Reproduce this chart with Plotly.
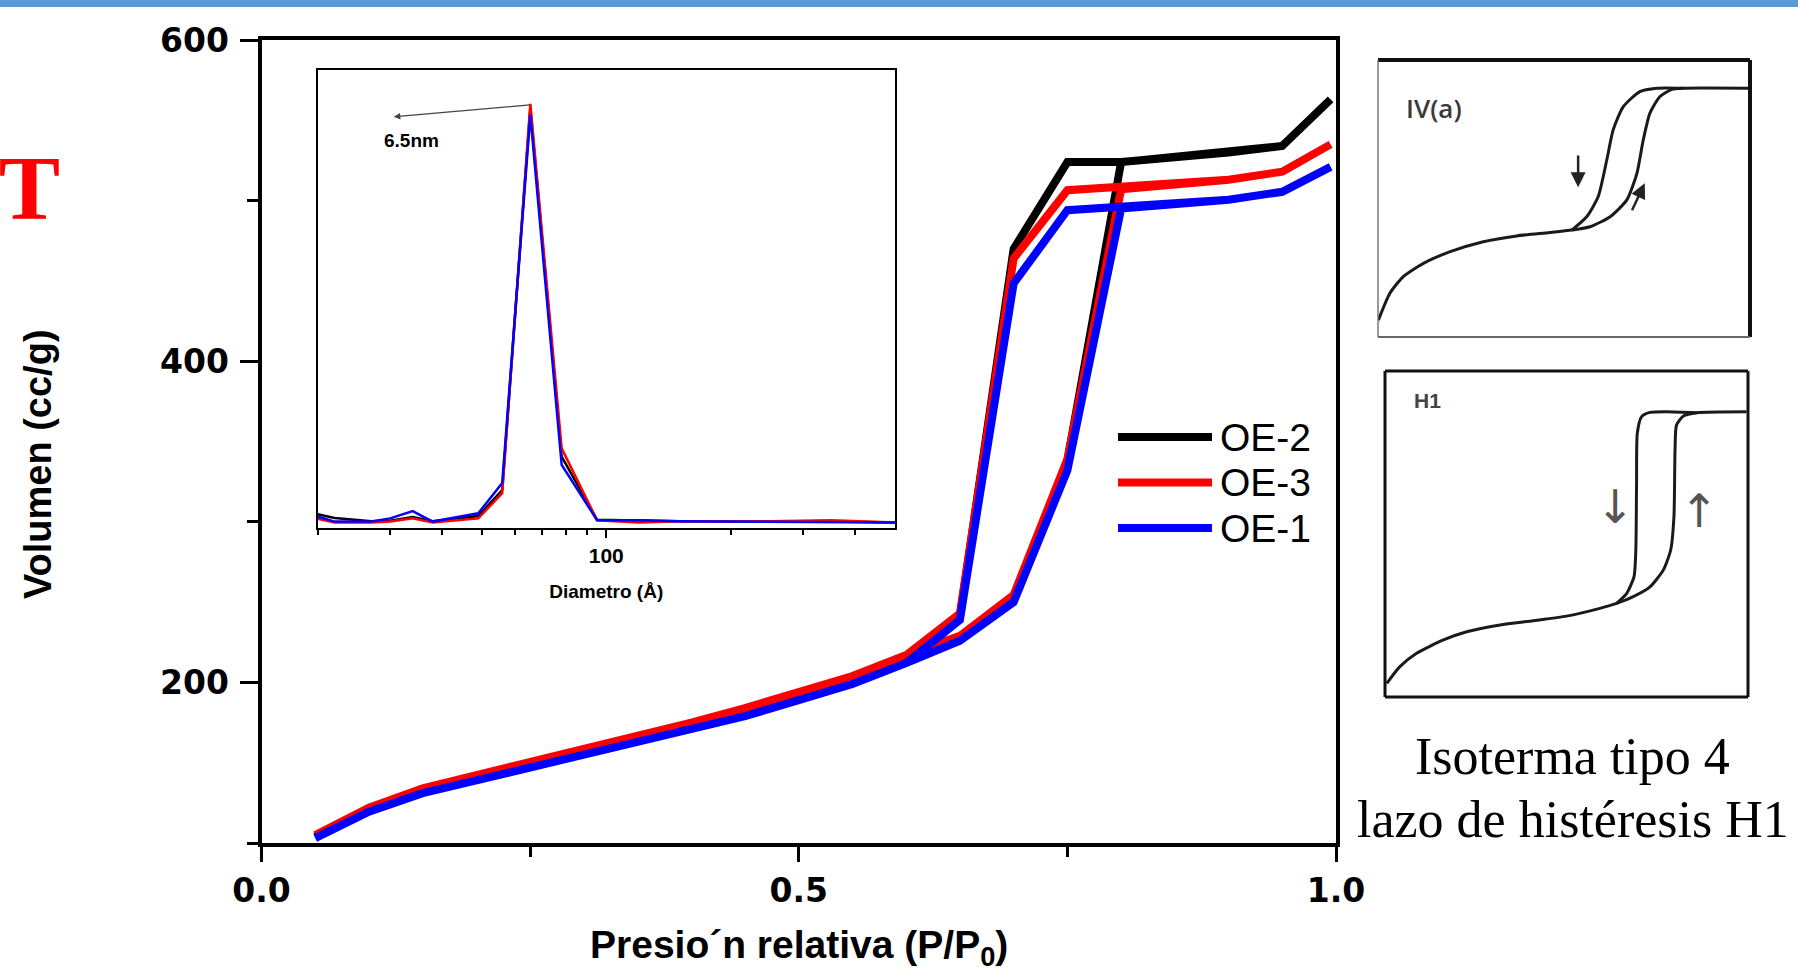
import math
import plotly.graph_objects as go

# ---------------- data: main isotherms (P/P0 vs volume cc/g) ----------------
series_names = ["OE-2", "OE-3", "OE-1"]
series_colors = ["#000000", "#ff0000", "#0000ff"]

p_ads = [0.05, 0.10, 0.15, 0.20, 0.25, 0.30, 0.35, 0.40, 0.45, 0.50,
         0.55, 0.60, 0.65, 0.70, 0.75, 0.80, 0.90, 0.95, 0.995]
p_des = [0.95, 0.90, 0.80, 0.75, 0.70, 0.65, 0.60]

oe2_ads = [104, 121, 133, 141, 149, 157, 165, 173, 182, 192,
           202, 214, 227, 252, 338, 524, 530, 534, 563]
oe2_des = [534, 530, 524, 524, 470, 241, 214]

oe3_ads = [105, 122, 134, 142, 150, 158, 166, 175, 184, 193.5,
           204, 217, 229, 254.5, 339, 507, 513, 518, 535]
oe3_des = [518, 513, 508, 506.5, 464, 243, 217]

oe1_ads = [103, 119.5, 131, 139, 147, 155, 162.5, 170.5, 179, 189,
           199, 212, 226, 250, 332, 495, 500.5, 505.5, 521]
oe1_des = [505.5, 500.5, 496, 494, 448.5, 239, 212]

ads_values = [oe2_ads, oe3_ads, oe1_ads]
des_values = [oe2_des, oe3_des, oe1_des]

# ---------------- data: inset pore size distribution ----------------
diam = [20, 22, 27, 30, 34, 38, 49, 56, 65.5, 78, 95, 120, 150, 250, 350, 500]
psd_oe2 = [0.030, 0.022, 0.015, 0.016, 0.024, 0.015, 0.026, 0.083, 0.917, 0.156,
           0.018, 0.016, 0.015, 0.014, 0.014, 0.012]
psd_oe3 = [0.020, 0.012, 0.012, 0.014, 0.021, 0.012, 0.021, 0.076, 0.926, 0.174,
           0.017, 0.012, 0.015, 0.015, 0.017, 0.012]
psd_oe1 = [0.025, 0.014, 0.014, 0.021, 0.037, 0.014, 0.032, 0.098, 0.902, 0.138,
           0.017, 0.017, 0.015, 0.014, 0.013, 0.012]
psd_values = [psd_oe2, psd_oe3, psd_oe1]
inset_ticks_major = [100]
inset_ticks_minor = [20, 30, 40, 50, 60, 70, 80, 90, 200, 300, 400]

# ---------------- data: reference sketches (normalized P/P0, amount) ----------------
iva_ads_x = [0.001, 0.032, 0.068, 0.122, 0.194, 0.283, 0.373, 0.462, 0.521, 0.570,
             0.624, 0.669, 0.696, 0.713, 0.731, 0.758, 0.790, 0.821, 0.995]
iva_ads_y = [0.061, 0.158, 0.218, 0.266, 0.308, 0.344, 0.365, 0.377, 0.386, 0.398,
             0.434, 0.495, 0.591, 0.711, 0.808, 0.868, 0.894, 0.898, 0.898]
iva_des_x = [0.521, 0.561, 0.592, 0.615, 0.632, 0.659, 0.704, 0.749, 0.821]
iva_des_y = [0.386, 0.434, 0.507, 0.639, 0.747, 0.831, 0.886, 0.898, 0.898]

h1_ads_x = [0.005, 0.041, 0.087, 0.161, 0.225, 0.317, 0.408, 0.500, 0.592, 0.638,
            0.684, 0.730, 0.767, 0.787, 0.796, 0.799, 0.803, 0.822, 0.859, 0.996]
h1_ads_y = [0.042, 0.093, 0.134, 0.175, 0.200, 0.221, 0.234, 0.248, 0.272, 0.287,
            0.308, 0.338, 0.390, 0.451, 0.553, 0.758, 0.834, 0.862, 0.872, 0.875]
h1_des_x = [0.638, 0.666, 0.686, 0.691, 0.693, 0.695, 0.707, 0.730, 0.776, 0.859]
h1_des_y = [0.287, 0.318, 0.369, 0.451, 0.655, 0.809, 0.860, 0.873, 0.875, 0.872]

# ---------------- layout helpers (pixel -> paper) ----------------
W, H = 1798, 973
def fx(px):
    return px / W
def fy(py):
    return 1 - py / H

BOLD_SANS = "Liberation Sans, Arial, sans-serif"
WIDE_BOLD = "DejaVu Sans, Verdana, sans-serif"
SERIF = "Liberation Serif, Times New Roman, serif"

fig = go.Figure()

# main isotherms
for name, color, ya, yd in zip(series_names, series_colors, ads_values, des_values):
    fig.add_trace(go.Scatter(
        x=p_ads + p_des, y=ya + yd, mode="lines", name=name,
        line=dict(color=color, width=8), showlegend=False,
        xaxis="x", yaxis="y"))

# inset
for name, color, vals in zip(series_names, series_colors, psd_values):
    fig.add_trace(go.Scatter(
        x=diam, y=vals, mode="lines", name=name + " PSD",
        line=dict(color=color, width=2.5), showlegend=False,
        xaxis="x2", yaxis="y2"))

# sketches
sk_line = dict(color="#1a1a1a", width=3, shape="spline", smoothing=0.6)
fig.add_trace(go.Scatter(x=iva_ads_x, y=iva_ads_y, mode="lines", line=sk_line,
                         showlegend=False, xaxis="x3", yaxis="y3", hoverinfo="skip"))
fig.add_trace(go.Scatter(x=iva_des_x, y=iva_des_y, mode="lines", line=sk_line,
                         showlegend=False, xaxis="x3", yaxis="y3", hoverinfo="skip"))
fig.add_trace(go.Scatter(x=h1_ads_x, y=h1_ads_y, mode="lines", line=sk_line,
                         showlegend=False, xaxis="x4", yaxis="y4", hoverinfo="skip"))
fig.add_trace(go.Scatter(x=h1_des_x, y=h1_des_y, mode="lines", line=sk_line,
                         showlegend=False, xaxis="x4", yaxis="y4", hoverinfo="skip"))

hidden = dict(visible=False, range=[0, 1], fixedrange=True, automargin=False)

fig.update_layout(
    template="none",
    width=W, height=H, autosize=False,
    margin=dict(l=0, r=0, t=0, b=0, pad=0, autoexpand=False),
    showlegend=False,
    paper_bgcolor="white", plot_bgcolor="white",
    xaxis=dict(
        domain=[fx(261.5), fx(1336)], range=[0, 1], anchor="y", automargin=False,
        tick0=0, dtick=0.5, tickformat=".1f",
        ticks="outside", ticklen=15, tickwidth=3, tickcolor="black",
        showline=True, linewidth=4, linecolor="black", mirror=True,
        showgrid=False, zeroline=False,
        tickfont=dict(family=WIDE_BOLD, size=33, color="black", weight="bold"),
        minor=dict(dtick=0.25, tick0=0, ticks="outside", ticklen=10, tickwidth=3,
                   tickcolor="black", showgrid=False),
    ),
    yaxis=dict(
        domain=[fy(843), fy(40)], range=[100, 600], anchor="x", automargin=False,
        tick0=0, dtick=200,
        ticks="outside", ticklen=18, tickwidth=3, tickcolor="black",
        showline=True, linewidth=4, linecolor="black", mirror=True,
        showgrid=False, zeroline=False, ticklabelstandoff=4,
        tickfont=dict(family=WIDE_BOLD, size=33, color="black", weight="bold"),
        minor=dict(dtick=100, tick0=0, ticks="outside", ticklen=11, tickwidth=3,
                   tickcolor="black", showgrid=False),
    ),
    xaxis2=dict(
        domain=[fx(317.5), fx(895)], type="log", automargin=False,
        range=[math.log10(20), math.log10(500)], anchor="y2",
        tickmode="array", tickvals=inset_ticks_major, ticktext=["100"],
        ticks="outside", ticklen=8, tickwidth=2, tickcolor="black",
        showline=True, linewidth=2, linecolor="black", mirror=True,
        showgrid=False, zeroline=False,
        tickfont=dict(family=BOLD_SANS, size=21, color="black", weight="bold"),
        minor=dict(tickmode="array", tickvals=inset_ticks_minor, ticks="outside",
                   ticklen=5, tickwidth=2, tickcolor="black", showgrid=False),
        title=dict(text="Diametro (Å)",
                   font=dict(family=BOLD_SANS, size=19, color="black", weight="bold"),
                   standoff=18),
    ),
    yaxis2=dict(
        domain=[fy(528), fy(70)], range=[0, 1], anchor="x2", automargin=False,
        showticklabels=False, ticks="",
        showline=True, linewidth=2, linecolor="black", mirror=True,
        showgrid=False, zeroline=False,
    ),
    xaxis3=dict(domain=[fx(1378), fx(1750)], anchor="y3", **hidden),
    yaxis3=dict(domain=[fy(337), fy(60)], anchor="x3", **hidden),
    xaxis4=dict(domain=[fx(1385), fx(1748)], anchor="y4", **hidden),
    yaxis4=dict(domain=[fy(697), fy(371)], anchor="x4", **hidden),
)

shapes = []
# top blue bar of the slide
shapes.append(dict(type="rect", xref="paper", yref="paper", x0=0, x1=1, y0=fy(7), y1=1,
                   fillcolor="#5b9bd5", line=dict(width=0), layer="above"))
# sketch IV(a) frame
for (x0, y0, x1, y1, col, wd) in [(0, 1, 1, 1, "#111", 4), (1, 0, 1, 1, "#111", 4),
                                   (0, 0, 0, 1, "#777", 1.5), (0, 0, 1, 0, "#666", 2)]:
    shapes.append(dict(type="line", xref="x3 domain", yref="y3 domain",
                       x0=x0, y0=y0, x1=x1, y1=y1, line=dict(color=col, width=wd)))
# sketch H1 frame
for (x0, y0, x1, y1) in [(0, 1, 1, 1), (1, 0, 1, 1), (0, 0, 0, 1), (0, 0, 1, 0)]:
    shapes.append(dict(type="line", xref="x4 domain", yref="y4 domain",
                       x0=x0, y0=y0, x1=x1, y1=y1, line=dict(color="#111", width=3)))
# manual legend lines (long samples as in the original)
leg_rows = [437, 482.5, 528]
for color, ry in zip(series_colors, leg_rows):
    shapes.append(dict(type="line", xref="paper", yref="paper",
                       x0=fx(1118), x1=fx(1212), y0=fy(ry), y1=fy(ry),
                       line=dict(color=color, width=8)))
fig.update_layout(shapes=shapes)

ann = []
for name, ry in zip(series_names, leg_rows):
    ann.append(dict(text=name, xref="paper", yref="paper", x=fx(1218), y=fy(ry),
                    xanchor="left", yanchor="middle", showarrow=False,
                    font=dict(family=BOLD_SANS, size=39, color="black")))
# x-axis title
ann.append(dict(text="Presio´n relativa (P/P<sub>0</sub>)", xref="paper", yref="paper",
                x=fx(798.75), y=fy(947), xanchor="center", yanchor="middle",
                showarrow=False,
                font=dict(family=BOLD_SANS, size=39, color="black", weight="bold")))
# y-axis title
ann.append(dict(text="Volumen (cc/g)", xref="paper", yref="paper", x=fx(38), y=fy(464),
                textangle=-90, showarrow=False, xanchor="center", yanchor="middle",
                font=dict(family="Liberation Sans Narrow, Arial Narrow, Liberation Sans",
                          size=38, color="black", weight="bold")))
# partially visible red slide title
ann.append(dict(text="BET", xref="paper", yref="paper", x=fx(62), y=fy(188),
                xanchor="right", yanchor="middle", showarrow=False,
                font=dict(family=SERIF, size=92, color="#ff0000", weight="bold")))
# inset annotation arrow + label
ann.append(dict(x=math.log10(30.6), y=0.898, ax=math.log10(65.9), ay=0.924,
                xref="x2", yref="y2", axref="x2", ayref="y2", text="",
                showarrow=True, arrowhead=2, arrowsize=1, arrowwidth=1.3,
                arrowcolor="#444"))
ann.append(dict(text="6.5nm", x=math.log10(33.8), y=0.845, xref="x2", yref="y2",
                showarrow=False, xanchor="center", yanchor="middle",
                font=dict(family=BOLD_SANS, size=19, color="black", weight="bold")))
# sketch labels and arrows
ann.append(dict(text="IV(a)", x=0.15, y=0.827, xref="x3", yref="y3", showarrow=False,
                font=dict(family="Open Sans, Liberation Sans", size=26, color="#3a3a3a",
                          weight=600)))
ann.append(dict(x=0.538, y=0.541, ax=0.538, ay=0.661, xref="x3", yref="y3",
                axref="x3", ayref="y3", text="", showarrow=True, arrowhead=2,
                arrowsize=1.2, arrowwidth=2.5, arrowcolor="#222"))
ann.append(dict(x=0.717, y=0.555, ax=0.681, ay=0.452, xref="x3", yref="y3",
                axref="x3", ayref="y3", text="", showarrow=True, arrowhead=2,
                arrowsize=1.2, arrowwidth=2.5, arrowcolor="#222"))
ann.append(dict(text="H1", x=0.117, y=0.909, xref="x4", yref="y4", showarrow=False,
                font=dict(family=BOLD_SANS, size=21, color="#444", weight="bold")))
ann.append(dict(text="↓", x=0.634, y=0.583, xref="x4", yref="y4", showarrow=False,
                font=dict(family="DejaVu Sans", size=46, color="#555")))
ann.append(dict(text="↑", x=0.865, y=0.571, xref="x4", yref="y4", showarrow=False,
                font=dict(family="DejaVu Sans", size=46, color="#555")))
# caption
ann.append(dict(text="Isoterma tipo 4", xref="paper", yref="paper", x=fx(1572), y=fy(756),
                showarrow=False, xanchor="center", yanchor="middle",
                font=dict(family=SERIF, size=52, color="black")))
ann.append(dict(text="lazo de histéresis H1", xref="paper", yref="paper", x=fx(1573),
                y=fy(819), showarrow=False, xanchor="center", yanchor="middle",
                font=dict(family=SERIF, size=52, color="black")))
fig.update_layout(annotations=ann)

fig.write_html("out.html", config={"displayModeBar": False},
               post_script="document.body.style.margin='0px';document.body.style.overflow='hidden';")
